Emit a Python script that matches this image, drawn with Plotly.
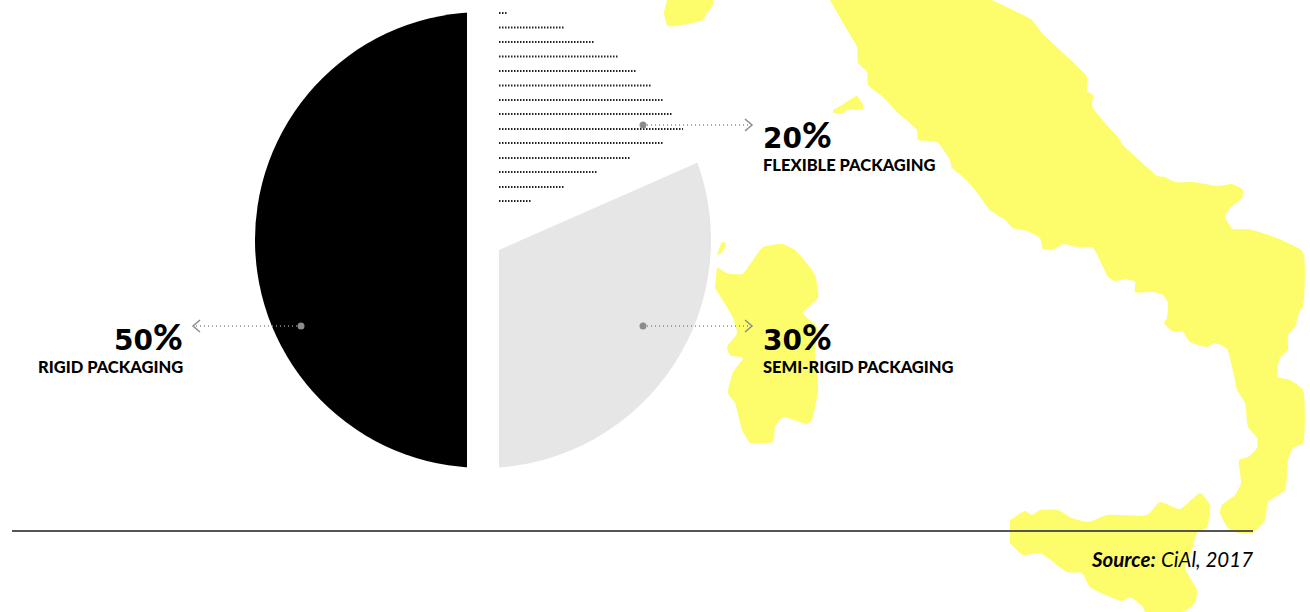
import plotly.graph_objects as go

# Pie data
slice_labels = ["Rigid packaging", "Flexible packaging", "Semi-rigid packaging"]
slice_values = [50, 20, 30]
slice_colors = ["#000000", "rgba(0,0,0,0)", "#E6E6E6"]

# Dotted hatching of the flexible slice: row y and row end x
hatch_y = [13, 27.5, 42, 56.5, 71, 85.5, 100, 114, 129, 143, 158, 172, 187, 201]
hatch_end = [507, 565, 595, 618, 636, 651, 663, 673, 683, 663, 630, 597, 565, 532]

# Background map outlines
main_x = [830, 847, 857, 858, 867, 868, 883, 898, 917, 918, 937, 950, 952, 963, 975, 990, 1005, 1013, 1027, 1040, 1043,
          1053, 1063, 1077, 1093, 1103, 1108, 1115, 1125, 1135, 1135, 1152, 1162, 1168, 1167, 1164, 1172, 1183, 1190,
          1207, 1215, 1227, 1232, 1235, 1237, 1245, 1248, 1257, 1257, 1248, 1239, 1241, 1235, 1222, 1220, 1228, 1238,
          1253, 1265, 1268, 1285, 1288, 1293, 1303, 1303, 1290, 1278, 1277, 1280, 1288, 1288, 1295, 1300, 1303, 1303,
          1277, 1248, 1233, 1225, 1230, 1242, 1243, 1232, 1218, 1193, 1175, 1165, 1157, 1148, 1123, 1118, 1105, 1092,
          1093, 1087, 1087, 1060, 1042, 1032, 1013, 992]
main_y = [0, 30, 47, 63, 72, 85, 97, 113, 130, 140, 142, 160, 168, 177, 190, 210, 220, 228, 231, 238, 249,
          250, 244, 247, 248, 267, 277, 281, 279, 282, 292, 292, 294, 303, 318, 323, 331, 332, 342,
          347, 343, 349, 367, 380, 390, 403, 427, 438, 448, 457, 460, 483, 495, 505, 513, 528, 533,
          533, 520, 502, 490, 460, 448, 443, 390, 380, 377, 370, 358, 350, 335, 327, 310, 307, 252,
          238, 229, 229, 217, 208, 198, 190, 184, 186, 182, 182, 177, 176, 168, 145, 137, 123, 106,
          95, 91, 77, 50, 33, 20, 10, 0]
sicily_x = [1010, 1025, 1032, 1040, 1058, 1072, 1088, 1107, 1147, 1160, 1180, 1200, 1210, 1207, 1197, 1192, 1185, 1197,
            1195, 1183, 1145, 1143, 1130, 1122, 1090, 1082, 1067, 1040, 1023, 1010]
sicily_y = [520, 511, 515, 510, 510, 518, 522, 515, 515, 502, 509, 493, 505, 527, 533, 550, 568, 590,
            603, 612, 612, 607, 597, 601, 587, 573, 572, 553, 555, 543]
sardinia_x = [717, 727, 742, 763, 782, 795, 815, 818, 803, 817, 815, 817, 818, 812, 807, 783, 775, 773, 755, 750, 742,
              735, 728, 733, 743, 730, 727, 737, 733, 715]
sardinia_y = [267, 273, 274, 247, 244, 250, 275, 298, 313, 327, 353, 370, 390, 420, 424, 417, 427, 442, 443, 443, 430,
              403, 393, 372, 358, 355, 347, 333, 318, 288]
islet_x = [717, 722, 726, 722]
islet_y = [255, 242, 243, 253]
elba_x = [833, 842, 857, 863, 863, 847, 843, 833]
elba_y = [110, 105, 96, 105, 109, 110, 113, 113]
corsica_x = [667, 664, 668, 703, 707, 713, 713]
corsica_y = [0, 13, 26, 20, 13, 5, 0]

YELLOW = "#FDFD6B"
GREY = "#8C8C8C"
FONT = "Lato"

fig = go.Figure()

for xs, ys in [(main_x, main_y), (sicily_x, sicily_y), (sardinia_x, sardinia_y), (islet_x, islet_y),
               (elba_x, elba_y), (corsica_x, corsica_y)]:
    fig.add_trace(go.Scatter(x=xs, y=ys, mode="lines", fill="toself", fillcolor=YELLOW,
                             line=dict(width=0, color=YELLOW, shape="spline", smoothing=0.5),
                             hoverinfo="skip", showlegend=False))

hx, hy = [], []
for y, end in zip(hatch_y, hatch_end):
    hx += [499, end, None]
    hy += [y, y, None]
fig.add_trace(go.Scatter(x=hx, y=hy, mode="lines", line=dict(color="#222222", width=2, dash="1.5px,1.5px"),
                         hoverinfo="skip", showlegend=False))

W, H = 1310, 612
fig.add_trace(go.Pie(labels=slice_labels, values=slice_values, sort=False, direction="clockwise", rotation=177.5,
                     marker=dict(colors=slice_colors, line=dict(width=0)), textinfo="none", showlegend=False,
                     hoverinfo="skip",
                     domain=dict(x=[255 / W, 711 / W], y=[1 - 468 / H, 1 - 12 / H])))

shapes = [
    # gaps between the slices
    dict(type="rect", x0=467, x1=499, y0=0, y1=480, fillcolor="white", line_width=0),
    dict(type="path", path="M 499 250 L 699 162 L 712 150 L 499 222 Z", fillcolor="white", line_width=0),
    # rule
    dict(type="line", x0=12, x1=1253, y0=531, y1=531, line=dict(color="#555555", width=2)),
]
for x0, x1, y, tip in [(643, 752, 125, 1), (643, 752, 326, 1), (301, 193, 326, -1)]:
    shapes.append(dict(type="line", x0=x0, x1=x1, y0=y, y1=y, line=dict(color=GREY, width=1.3, dash="1px,3px")))
    shapes.append(dict(type="circle", x0=x0 - 3.5, x1=x0 + 3.5, y0=y - 3.5, y1=y + 3.5, fillcolor=GREY, line_width=0))
    shapes.append(dict(type="path", path=f"M {x1 - 7 * tip} {y - 6} L {x1} {y} L {x1 - 7 * tip} {y + 6}",
                       line=dict(color=GREY, width=1.5)))

annotations = []
def label(x, anchor, pct, name, y_pct, y_name):
    text = ('<span style="font-family:\'DejaVu Sans\';font-weight:bold;font-size:28px">' + pct[:-1] + "</span>"
            + '<span style="font-size:36px">%</span>')
    annotations.append(dict(x=x, y=y_pct, xref="x", yref="y", text=text, showarrow=False, xanchor=anchor,
                            yanchor="middle", font=dict(family=FONT, size=32, color="black", weight=900)))
    annotations.append(dict(x=x, y=y_name, xref="x", yref="y", text=name, showarrow=False, xanchor=anchor,
                            yanchor="middle", font=dict(family=FONT, size=16.5, color="black", weight=900)))

label(761, "left", "20%", "FLEXIBLE PACKAGING", 134, 165)
label(761, "left", "30%", "SEMI-RIGID PACKAGING", 336, 367)
label(185, "right", "50%", "RIGID PACKAGING", 336, 367)
annotations.append(dict(x=1255, y=559, xref="x", yref="y", showarrow=False, xanchor="right", yanchor="middle",
                        text="<b><i>Source:</i></b> <i>CiAl, 2017</i>",
                        font=dict(family=FONT, size=20.5, color="black")))

fig.update_layout(
    width=W, height=H, autosize=False, margin=dict(l=0, r=0, t=0, b=0),
    paper_bgcolor="white", plot_bgcolor="white", showlegend=False,
    xaxis=dict(range=[0, W], visible=False, fixedrange=True),
    yaxis=dict(range=[H, 0], visible=False, fixedrange=True),
    shapes=shapes, annotations=annotations,
)
fig.write_html("out.html", config=dict(displayModeBar=False),
               post_script="document.body.style.margin='0';document.documentElement.style.overflow='hidden';")
